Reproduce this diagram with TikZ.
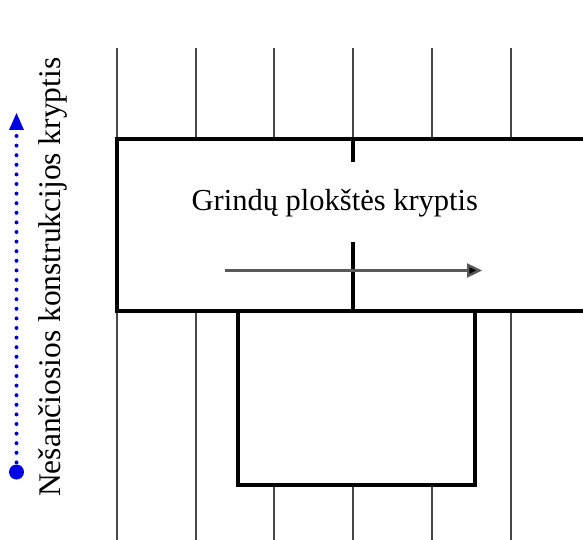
\documentclass[tikz,border=0pt]{standalone}
\usepackage{fontspec}
\setmainfont{Liberation Serif}
\usetikzlibrary{arrows.meta}
\begin{document}
\begin{tikzpicture}[x=1pt,y=-1pt,
  thinline/.style={line width=2pt,draw=black!72},
  thickline/.style={line width=4.8pt,draw=black},
  bluedir/.style={draw=blue!85!black,line width=4pt,dash pattern=on 0pt off 9.6pt,line cap=round},
  lbl/.style={inner sep=0pt,font=\fontsize{30.5}{36}\selectfont}]
\useasboundingbox (0,0) rectangle (583,540);
\clip (0,0) rectangle (583,540);
% thin vertical lines
\foreach \x in {117,195.5,274,353,432,511}
  \draw[thinline] (\x,48) -- (\x,545);
% big slab rectangle (open to the right)
\filldraw[fill=white,thickline] (600,139) -- (117,139) -- (117,311) -- (600,311);
% lower rectangle
\filldraw[fill=white,thickline] (238,311) rectangle (475,485);
% thick stubs
\draw[thickline] (353,139) -- (353,162);
\draw[thickline] (353,242) -- (353,311);
% arrow
\coordinate (a1) at (225,270.5);
\coordinate (a2) at (482,270.5);
\draw[line width=2.4pt,draw=black!65,-{Triangle[length=15pt,width=14pt,fill=black]}] (a1) -- (a2);
% label
\node[lbl,anchor=base west] (t1) at (191.5,210.5) {Grindų plokštės kryptis};
\node[lbl,anchor=base west,rotate=90,font=\fontsize{31.5}{36}\selectfont] (t2) at (60,497) {Nešančiosios konstrukcijos kryptis};
% blue direction arrow
\coordinate (b1) at (16.5,472);
\coordinate (b2) at (16.5,113);
\coordinate (b3) at (16.5,132);
\draw[bluedir] (b1) -- (b3);
\fill[blue!90!black] (b1) circle (7.5pt);
\fill[blue!90!black] (b2) -- ++(-7.5,17) -- ++(15,0) -- cycle;
\end{tikzpicture}
\end{document}
